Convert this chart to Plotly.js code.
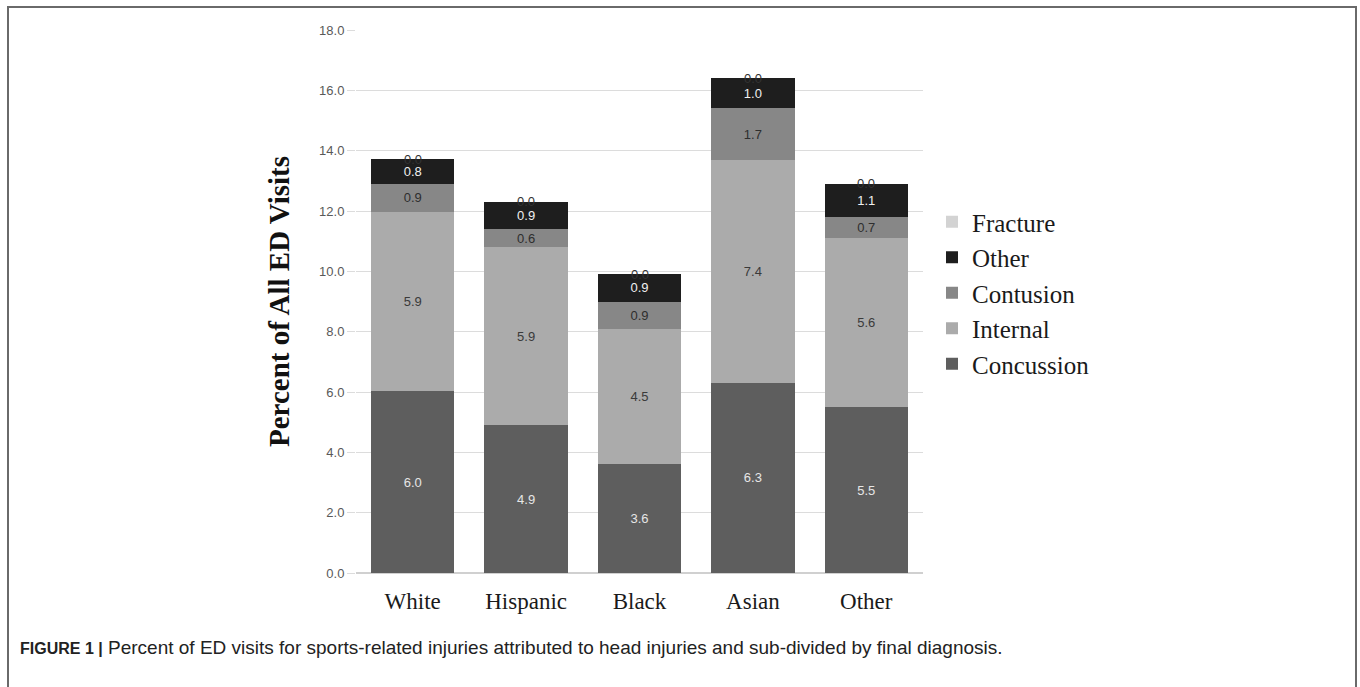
<!DOCTYPE html>
<html>
<head>
<meta charset="utf-8">
<script src="https://cdn.plot.ly/plotly-3.0.1.min.js"></script>
<style>
  html, body { margin: 0; padding: 0; background: #fff; }
  #wrap { position: relative; width: 1360px; height: 687px; }
  #chart { width: 1360px; height: 687px; }
  #frame { position: absolute; left: 7px; top: 6px; width: 1346px; height: 700px;
           border-left: 2px solid #6a6a6a; border-top: 2px solid #6a6a6a; border-right: 2px solid #6a6a6a;
           pointer-events: none; }
</style>
</head>
<body>
<div id="wrap">
  <div id="chart"></div>
  <div id="frame"></div>
</div>
<script>
const categories = ["White", "Hispanic", "Black", "Asian", "Other"];
const concussion = [6.03, 4.9, 3.6, 6.3, 5.5];
const internal   = [5.94, 5.9, 4.5, 7.4, 5.6];
const contusion  = [0.93, 0.6, 0.9, 1.7, 0.7];
const otherDx    = [0.82, 0.9, 0.9, 1.0, 1.1];
const fracture   = [0.0, 0.0, 0.0, 0.0, 0.0];
const yTicks = [0, 2, 4, 6, 8, 10, 12, 14, 16, 18];

const series = [
  {name: "Concussion", y: concussion, color: "#5e5e5e", txt: "#e6e6e6"},
  {name: "Internal",   y: internal,   color: "#ababab", txt: "#3a3a3a"},
  {name: "Contusion",  y: contusion,  color: "#878787", txt: "#2e2e2e"},
  {name: "Other",      y: otherDx,    color: "#1e1e1e", txt: "#f0f0f0"},
  {name: "Fracture",   y: fracture,   color: "#d3d3d3", txt: "#333333"}
];

const traces = series.map(s => ({
  type: "bar",
  name: s.name,
  x: categories,
  y: s.y,
  marker: {color: s.color, line: {width: 0}},
  text: s.name === "Fracture" ? s.y.map(() => "") : s.y.map(v => v.toFixed(1)),
  textposition: s.name === "Fracture" ? "none" : "inside",
  insidetextanchor: "middle",
  textangle: 0,
  constraintext: "none",
  textfont: {family: "Liberation Sans, Arial, sans-serif", size: 13, color: s.txt},
  hoverinfo: "x+y+name"
}));

// Labels for the zero-height top segment, placed at the top of each stack
const totals = categories.map((c, i) => series.reduce((a, s) => a + s.y[i], 0));
const annotations = categories.map((c, i) => ({
  x: c, y: totals[i], xref: "x", yref: "y",
  text: fracture[i].toFixed(1), showarrow: false,
  yanchor: "middle", xanchor: "center",
  font: {family: "Liberation Sans, Arial, sans-serif", size: 13, color: "#333333"}
}));

// caption
const L = 356, R = 923, T = 30, B = 573;
const px2x = p => (p - L) / (R - L);
const py2y = p => (B - p) / (B - T);
annotations.push({
  xref: "paper", yref: "paper",
  x: px2x(18), y: py2y(647), xanchor: "left", yanchor: "middle",
  showarrow: false, align: "left",
  text: "<b style=\"font-size:16px\">FIGURE 1 |</b> Percent of ED visits for sports-related injuries attributed to head injuries and sub-divided by final diagnosis.",
  font: {family: "Liberation Sans, Arial, sans-serif", size: 19, color: "#222222"}
});

const layout = {
  width: 1360, height: 687,
  margin: {l: L, r: 1360 - R, t: T, b: 687 - B, pad: 0},
  paper_bgcolor: "#ffffff", plot_bgcolor: "#ffffff",
  barmode: "stack",
  bargap: 0.265,
  showlegend: true,
  legend: {
    traceorder: "reversed",
    x: px2x(932), y: py2y(199), xanchor: "left", yanchor: "top",
    font: {family: "Liberation Serif, Times New Roman, serif", size: 25, color: "#1a1a1a"},
    itemsizing: "constant", tracegroupgap: 0,
    bgcolor: "rgba(0,0,0,0)"
  },
  xaxis: {
    type: "category",
    categoryarray: categories,
    range: [-0.5, 4.5],
    showgrid: false, showline: false, zeroline: false,
    ticks: "",
    tickfont: {family: "Liberation Serif, Times New Roman, serif", size: 23, color: "#1a1a1a"},
    ticklabelstandoff: 12,
    fixedrange: true
  },
  yaxis: {
    range: [0, 18],
    tickvals: yTicks,
    ticktext: yTicks.map(v => v.toFixed(1)),
    showgrid: true, gridcolor: "#dcdcdc", gridwidth: 1,
    zeroline: true, zerolinecolor: "#d0d0d0", zerolinewidth: 1.5,
    showline: false,
    ticks: "outside", ticklen: 8, tickcolor: "#dcdcdc",
    tickfont: {family: "Liberation Sans, Arial, sans-serif", size: 13, color: "#595959"},
    title: {text: "<b>Percent of All ED Visits</b>", standoff: 20,
            font: {family: "Liberation Serif, Times New Roman, serif", size: 29, color: "#111111"}},
    automargin: false,
    fixedrange: true
  },
  annotations: annotations
};

Plotly.newPlot("chart", traces, layout, {displayModeBar: false, staticPlot: true});
</script>
</body>
</html>
